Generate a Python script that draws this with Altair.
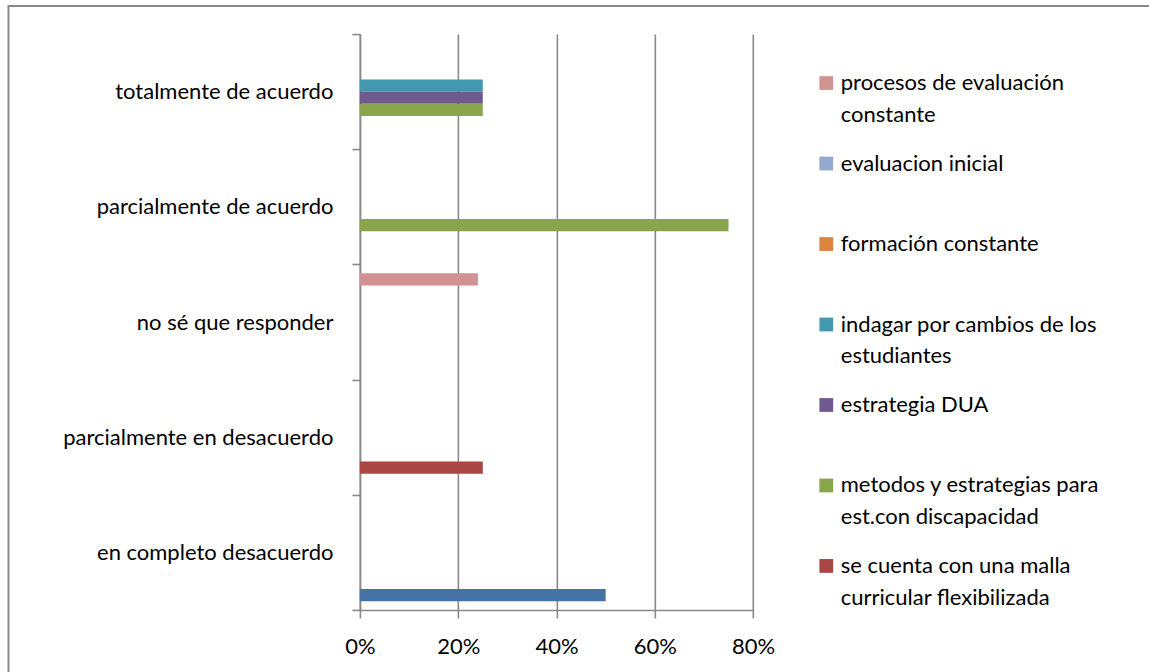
import altair as alt
import pandas as pd

categories = [
    "totalmente de acuerdo",
    "parcialmente de acuerdo",
    "no sé que responder",
    "parcialmente en desacuerdo",
    "en completo desacuerdo",
]

# series listed top-to-bottom inside each category group (Excel draws series 1 at the bottom)
series = [
    "procesos de evaluación constante",
    "evaluacion inicial",
    "formación constante",
    "indagar por cambios de los estudiantes",
    "estrategia DUA",
    "metodos y estrategias para est.con discapacidad",
    "se cuenta con una malla curricular flexibilizada",
    "serie 1",
]
colors = ["#D19392", "#93A9CF", "#DB843D", "#4198AF", "#71588F", "#89A54E", "#AA4643", "#4572A7"]

# values per series, in the order of `categories`
v_procesos = [0, 0, 0.24, 0, 0]
v_evaluacion = [0, 0, 0, 0, 0]
v_formacion = [0, 0, 0, 0, 0]
v_indagar = [0.25, 0, 0, 0, 0]
v_dua = [0.25, 0, 0, 0, 0]
v_metodos = [0.25, 0.75, 0, 0, 0]
v_malla = [0, 0, 0, 0.25, 0]
v_serie1 = [0, 0, 0, 0, 0.50]
values = [v_procesos, v_evaluacion, v_formacion, v_indagar, v_dua, v_metodos, v_malla, v_serie1]

# legend (the first series is cut off in the original legend)
legend_items = series[:7]
legend_line1 = [
    "procesos de evaluación",
    "evaluacion inicial",
    "formación constante",
    "indagar por cambios de los",
    "estrategia DUA",
    "metodos y estrategias para",
    "se cuenta con una malla",
]
legend_line2 = ["constante", "", "", "estudiantes", "", "est.con discapacidad", "curricular flexibilizada"]

x_ticks = [0, 0.2, 0.4, 0.6, 0.8]

rows = []
for s, vals in zip(series, values):
    for c, v in zip(categories, vals):
        if v > 0:
            rows.append({"categoria": c, "serie": s, "valor": v})
df = pd.DataFrame(rows)
leg = pd.DataFrame({"serie": legend_items, "l1": legend_line1, "l2": legend_line2})

FONT = "Lato"
FS = 22
GRAY = "#898989"

color = alt.Color("serie:N", scale=alt.Scale(domain=series, range=colors), legend=None)

bars = alt.Chart(df).mark_bar().encode(
    x=alt.X(
        "valor:Q",
        scale=alt.Scale(domain=[0, 0.8], nice=False),
        axis=alt.Axis(
            values=x_ticks, format="%", title=None, grid=True, gridColor=GRAY, gridWidth=1.6,
            domainColor=GRAY, domainWidth=1.6, tickColor=GRAY, tickWidth=1.6, tickSize=8,
            labelPadding=19, labelFlush=False, labelFont=FONT, labelFontSize=FS, labelColor="#000000",
        ),
    ),
    y=alt.Y(
        "categoria:N",
        sort=categories,
        scale=alt.Scale(domain=categories, paddingInner=0, paddingOuter=0),
        axis=alt.Axis(
            title=None, tickBand="extent", domainColor=GRAY, domainWidth=1.6, tickColor=GRAY,
            tickWidth=1.6, tickSize=8, labelPadding=19, labelFont=FONT, labelFontSize=FS,
            labelColor="#000000", labelLimit=400, grid=False,
        ),
    ),
    yOffset=alt.YOffset("serie:N", scale=alt.Scale(domain=series, paddingInner=0, paddingOuter=0.72)),
    color=color,
)

frame = alt.Chart(pd.DataFrame({"a": [0]})).mark_rect(filled=False, stroke=GRAY, strokeWidth=2).encode(
    x=alt.value(-351.5), x2=alt.value(820), y=alt.value(-28), y2=alt.value(680)
)

ly = alt.Y("serie:N", scale=alt.Scale(domain=legend_items, type="point", padding=0, range=[49, 532]), axis=None)
leg_sq = alt.Chart(leg).mark_square(size=190, opacity=1).encode(x=alt.value(466.5), y=ly, color=color)
leg_t1 = alt.Chart(leg).mark_text(align="left", baseline="middle", font=FONT, fontSize=FS, color="#000000").encode(
    x=alt.value(481), y=ly, text="l1:N"
)
leg_t2 = alt.Chart(leg).mark_text(align="left", baseline="middle", font=FONT, fontSize=FS, color="#000000", dy=32).encode(
    x=alt.value(481), y=ly, text="l2:N"
)
legend = alt.layer(leg_sq, leg_t1, leg_t2)

chart = alt.layer(bars, frame, legend).resolve_scale(y="independent").properties(
    width=393.3,
    height=576,
    autosize=alt.AutoSizeParams(type="none"),
    padding={"left": 360, "top": 34, "right": 396, "bottom": 62},
    background="white",
).configure_view(stroke=None)

chart.save("out.html", embed_options={"renderer": "svg", "actions": False})
